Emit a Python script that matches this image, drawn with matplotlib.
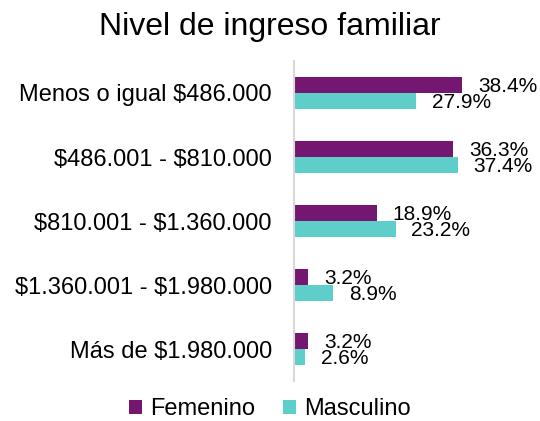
import numpy as np
import matplotlib
matplotlib.use("Agg")
import matplotlib.pyplot as plt

plt.rcParams['font.family'] = ['Liberation Sans', 'DejaVu Sans']
plt.rcParams['text.parse_math'] = False

categorias = ["Menos o igual $486.000", "$486.001 - $810.000", "$810.001 - $1.360.000",
              "$1.360.001 - $1.980.000", "Más de $1.980.000"]
femenino = [38.4, 36.3, 18.9, 3.2, 3.2]
masculino = [27.9, 37.4, 23.2, 8.9, 2.6]

col_fem = "#731770"
col_mas = "#5ECECB"

fig = plt.figure(figsize=(5.4, 4.21), dpi=100)
ax = fig.add_axes([294/540, 40/421, 226/540, 320/421])

y = np.arange(len(categorias))
h = 0.25
ax.barh(y - h/2, femenino, height=h, color=col_fem, label="Femenino")
ax.barh(y + h/2, masculino, height=h, color=col_mas, label="Masculino")

# etiquetas de porcentaje
for i in range(len(categorias)):
    ax.text(femenino[i] + 3.6, y[i] - h/2 + 0.03, f"{femenino[i]:.1f}%",
            va="center", ha="left", fontsize=15)
    ax.text(masculino[i] + 3.6, y[i] + h/2 + 0.03, f"{masculino[i]:.1f}%",
            va="center", ha="left", fontsize=15)

ax.set_xlim(0, 226/4.38)
ax.set_ylim(len(categorias) - 0.5, -0.5)
ax.set_yticks(y)
ax.set_yticklabels(categorias, fontsize=17)
ax.tick_params(axis="y", length=0, pad=16)
ax.set_xticks([])
for s in ["top", "right", "bottom"]:
    ax.spines[s].set_visible(False)
ax.spines["left"].set_color("#D9D9D9")
ax.spines["left"].set_linewidth(1.5)

fig.text(0.5, 394/421, "Nivel de ingreso familiar", ha="center", va="center", fontsize=23)
fig.legend(loc="center", bbox_to_anchor=(0.5, 12/421), ncol=2, frameon=False,
           fontsize=17, handlelength=0.55, handleheight=0.55, handletextpad=0.35,
           columnspacing=1.2, borderpad=0.1)

fig.savefig("out.png", dpi=100)
